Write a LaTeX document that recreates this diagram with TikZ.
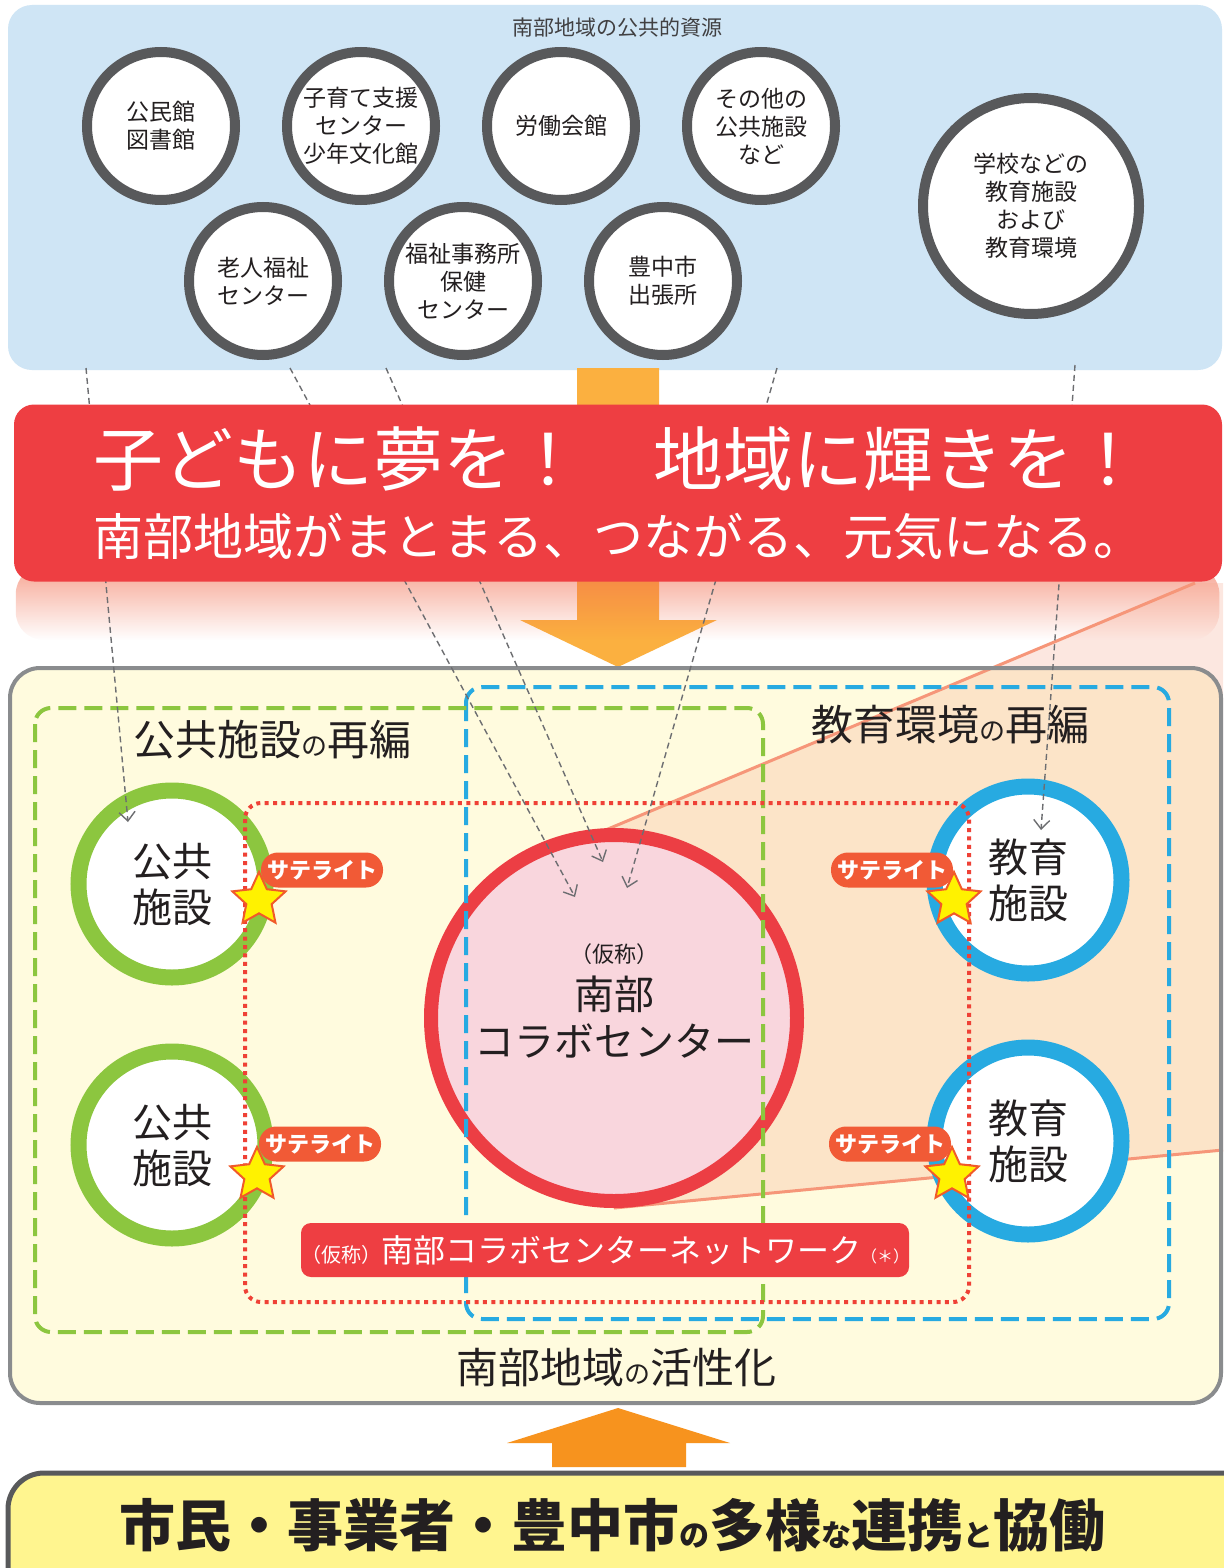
\documentclass[tikz,border=0pt]{standalone}
\usepackage{fontspec}
\setmainfont{Noto Sans CJK JP}
\usetikzlibrary{positioning, calc, shapes.geometric, arrows.meta, fadings}
\definecolor{resblue}{HTML}{CFE5F5}
\definecolor{resgray}{HTML}{58595B}
\definecolor{titlegray}{HTML}{414042}
\definecolor{inkdark}{HTML}{231F20}
\definecolor{topflow}{HTML}{FBB040}
\definecolor{bannerred}{HTML}{EE3E42}
\definecolor{bannerglow}{HTML}{F26A4B}
\definecolor{lowfill}{HTML}{FFFBDE}
\definecolor{lowedge}{HTML}{8A8C8E}
\definecolor{calloutfill}{HTML}{F7A48A}
\definecolor{calloutline}{HTML}{F69679}
\definecolor{pubgreen}{HTML}{8CC63F}
\definecolor{edublue}{HTML}{27AAE1}
\definecolor{collabred}{HTML}{EC3E44}
\definecolor{collabpink}{HTML}{F9D6DD}
\definecolor{dotred}{HTML}{EF4136}
\definecolor{satorange}{HTML}{F15A36}
\definecolor{staryellow}{HTML}{FFF200}
\definecolor{starred}{HTML}{F15A29}
\definecolor{linkgray}{HTML}{6D6E71}
\definecolor{baseflow}{HTML}{F7931E}
\definecolor{basefill}{HTML}{FFF58F}
\newcommand{\kanasm}[2]{{\fontsize{#1}{#1}\selectfont #2}}
\tikzset{
  every node/.style={text=inkdark},
  res/.style={circle, draw=resgray, line width=5pt, fill=white, minimum size=74pt, inner sep=0pt, align=center, font=\fontsize{11.5}{14}\selectfont},
  resbig/.style={res, minimum size=108pt},
  pubfac/.style={circle, draw=pubgreen, line width=8pt, fill=white, minimum size=93.5pt, inner sep=0pt, align=center, font=\fontsize{20}{23}\selectfont},
  edufac/.style={pubfac, draw=edublue},
  collabc/.style={circle, draw=collabred, line width=7pt, fill=collabpink, minimum size=183pt, inner sep=0pt, align=center, text depth=18pt, font=\fontsize{20}{23.5}\selectfont},
  sat/.style={fill=satorange, rounded corners=8.5pt, minimum width=61pt, minimum height=17.5pt, inner sep=0pt, text=white, font=\bfseries\fontsize{11}{12}\selectfont},
  sstar/.style={star, star points=5, star point ratio=2.1, fill=staryellow, draw=starred, line width=1pt, minimum size=28pt, inner sep=0pt},
  region/.style={line width=2pt, rounded corners=8pt, dash pattern=on 9pt off 4pt},
  dotbox/.style={draw=dotred, line width=2pt, rounded corners=8pt, dash pattern=on 2pt off 2.2pt},
  link/.style={draw=linkgray, line width=0.7pt, dash pattern=on 3pt off 2pt, -{Straight Barb[length=4.5pt, width=8pt]}},
  biglab/.style={font=\fontsize{21}{21}\selectfont},
  netbox/.style={fill=bannerred, rounded corners=5pt, minimum width=302.5pt, minimum height=27pt, inner sep=0pt, text=white, font=\fontsize{16}{18}\selectfont},
  banner/.style={fill=bannerred, rounded corners=10pt, minimum width=604pt, minimum height=88.5pt, inner sep=0pt, align=center, text=white, font=\fontsize{25}{35}\selectfont},
}

\begin{document}
\begin{tikzpicture}[x=0.5pt, y=-0.5pt]
  \fill[white] (0,0) rectangle (1223,1568);
  \useasboundingbox (0,0) rectangle (1223,1568);

  % ---- public resources of the southern area ----
  \fill[resblue, rounded corners=12pt] (8,5) rectangle (1222,370);
  \node[font=\fontsize{10.5}{12}\selectfont, text=titlegray] (restitle) at (617,28) {南部地域の公共的資源};
  \node[res] (kominkan) at (161,126) {公民館\\図書館};
  \node[res, right=21pt of kominkan] (kosodate) {子育て支援\\センター\\少年文化館};
  \node[res, right=21pt of kosodate] (roudou) {労働会館};
  \node[res, right=21pt of roudou] (sonota) {その他の\\公共施設\\など};
  \node[res] (roujin) at (263,281) {老人福祉\\センター};
  \node[res, right=21pt of roujin] (fukushi) {福祉事務所\\保健\\センター};
  \node[res, right=21pt of fukushi] (shutchou) {豊中市\\出張所};
  \node[resbig] (gakkou) at (1031,206) {学校などの\\教育施設\\および\\教育環境};

  % ---- flow down ----
  \fill[topflow] (577,368) -- (659,368) -- (659,620) -- (717,620) -- (618,667) -- (520,620) -- (577,620) -- cycle;
  \fill[bannerglow, path fading=south, fill opacity=0.6, rounded corners=14pt] (16,566) rectangle (1220,640);

  % ---- activation area ----
  \coordinate (hub) at (614,1018);
  \coordinate (calloutTop) at (1195,583);
  \coordinate (calloutIn) at (565,847);
  \fill[lowfill, rounded corners=15pt] (10,668) rectangle (1221,1403);
  \fill[calloutfill, opacity=0.26] (calloutIn) -- (calloutTop) -- (1223,583) -- (1223,1150) -- ($(hub)+(0,190)$) -- (hub) -- cycle;
  \draw[calloutline, line width=1.5pt] (calloutIn) -- (calloutTop);
  \draw[calloutline, line width=1.5pt] ($(hub)+(0,190)$) -- (1223,1150);
  \draw[lowedge, line width=2pt, rounded corners=15pt] (10,668) rectangle (1221,1403);

  \node[pubfac] (pubA) at (172,884) {公共\\施設};
  \node[pubfac, below=29pt of pubA] (pubB) {公共\\施設};
  \node[edufac] (eduA) at (1028,880) {教育\\施設};
  \node[edufac, below=29pt of eduA] (eduB) {教育\\施設};
  \node[collabc] (collab) at (hub) {\kanasm{11}{（仮称）}\\南部\\コラボセンター};

  \draw[region, draw=edublue] (466,687) rectangle (1169,1319);
  \draw[region, draw=pubgreen] (35,708) rectangle (763,1332);
  \draw[dotbox] (245,803) rectangle (969,1302);

  \node[biglab] (pubre) at (272,740) {公共施設\kanasm{13}{の}再編};
  \node[biglab] (edure) at (950,725) {教育環境\kanasm{13}{の}再編};

  % ---- satellites ----
  \node[sat] (satA) at (322,870) {サテライト};
  \node[sat] (satB) at (320,1144) {サテライト};
  \node[sat] (satC) at (892,870) {サテライト};
  \node[sat] (satD) at (890,1144) {サテライト};
  \node[sstar] (starA) at (259,900) {};
  \node[sstar] (starB) at (257,1175) {};
  \node[sstar] (starC) at (954,900) {};
  \node[sstar] (starD) at (952,1175) {};

  \node[netbox] (network) at (605,1250) {\kanasm{10}{（仮称）}南部コラボセンターネットワーク\kanasm{8}{（＊）}};
  \node[biglab] (activ) at (616,1368) {南部地域\kanasm{13}{の}活性化};

  % ---- citizens, business, city ----
  \fill[baseflow] (552,1467) -- (686,1467) -- (686,1443) -- (730,1443) -- (618,1408) -- (507,1443) -- (552,1443) -- cycle;
  \filldraw[fill=basefill, draw=resgray, line width=2.5pt, rounded corners=18pt] (8,1473) rectangle (1260,1620);
  \node[font=\bfseries\fontsize{28}{28}\selectfont] (partners) at (612,1525) {市民・事業者・豊中市\kanasm{15}{の}多様\kanasm{15}{な}連携\kanasm{15}{と}協働};

  % ---- links from resources ----
  \draw[link] ($(kominkan)+(-75,242)$) -- ($(pubA)+(-44,-62)$);
  \draw[link] ($(roujin)+(27,87)$) -- ($(collab)+(-39,-121)$);
  \draw[link] ($(fukushi)+(-77,87)$) -- ($(collab)+(-11,-156)$);
  \draw[link] ($(shutchou)+(114,87)$) -- ($(collab)+(13,-130)$);
  \draw[link] ($(gakkou)+(44,159)$) -- ($(eduA)+(13,-50)$);

  % ---- slogan ----
  \node[banner] (banner) at (618,493) {{\fontsize{35}{35}\selectfont 子どもに夢を！　地域に輝きを！}\\南部地域がまとまる、つながる、元気になる。};
\end{tikzpicture}
\end{document}
